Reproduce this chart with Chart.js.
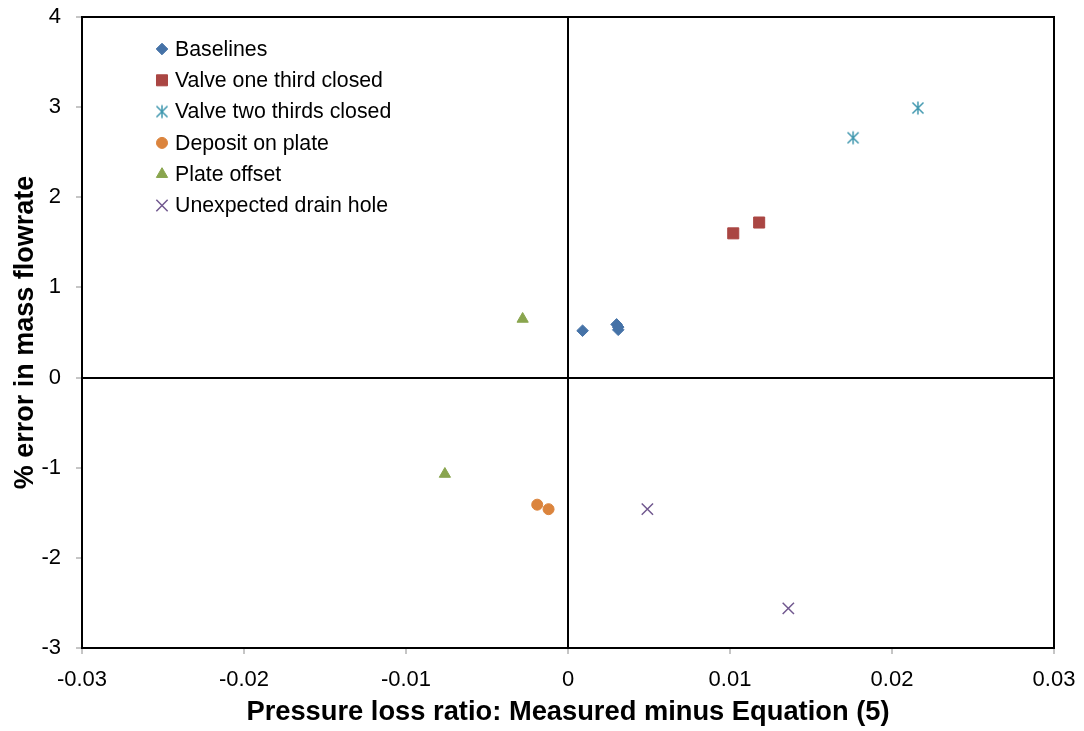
<!DOCTYPE html>
<html>
<head>
<meta charset="utf-8">
<title>Mass flowrate error vs pressure loss ratio</title>
<script src="https://cdn.jsdelivr.net/npm/chart.js@4/dist/chart.umd.min.js"></script>
<style>
  html, body { margin: 0; padding: 0; background: #fff; }
  #wrap { width: 1084px; height: 731px; }
</style>
</head>
<body>
<div id="wrap"><canvas id="chart" width="1084" height="731"></canvas></div>
<script>
// Series names
const seriesLabels = [
  'Baselines',
  'Valve one third closed',
  'Valve two thirds closed',
  'Deposit on plate',
  'Plate offset',
  'Unexpected drain hole'
];

// Pressure loss ratio difference (x) and % error in mass flowrate (y)
const baselinesX = [0.0009, 0.0030, 0.0031, 0.0031];
const baselinesY = [0.52, 0.59, 0.56, 0.53];

const valveThirdX = [0.0102, 0.0118];
const valveThirdY = [1.60, 1.72];

const valveTwoThirdsX = [0.0176, 0.0216];
const valveTwoThirdsY = [2.66, 2.99];

const depositX = [-0.0019, -0.0012];
const depositY = [-1.41, -1.46];

const offsetX = [-0.0028, -0.0076];
const offsetY = [0.65, -1.07];

const drainX = [0.0049, 0.0136];
const drainY = [-1.46, -2.56];

// Axis tick values
const xTicks = [-0.03, -0.02, -0.01, 0, 0.01, 0.02, 0.03];
const yTicks = [-3, -2, -1, 0, 1, 2, 3, 4];

const FONT = '"Liberation Sans", Arial, sans-serif';

// Asterisk marker: an X with a vertical stroke through it
function makeStar(color, size) {
  const c = document.createElement('canvas');
  c.width = size; c.height = size;
  const g = c.getContext('2d');
  const m = size / 2, r = size / 2 - 1.5;
  const d = r * 0.85;
  g.strokeStyle = color;
  g.lineWidth = 1.5;
  g.beginPath();
  g.moveTo(m - d, m - d); g.lineTo(m + d, m + d);
  g.moveTo(m + d, m - d); g.lineTo(m - d, m + d);
  g.moveTo(m, m - r); g.lineTo(m, m + r);
  g.stroke();
  return c;
}

function pts(xs, ys) { return xs.map((x, i) => ({ x: x, y: ys[i] })); }

const colors = ['#4572A7', '#AA4643', '#4198AF', '#DB843D', '#89A54E', '#71588F'];
const starImg = makeStar(colors[2], 16);

const datasets = [
  { label: seriesLabels[0], data: pts(baselinesX, baselinesY), pointStyle: 'rectRot', pointRadius: 5.8, pointBorderWidth: 1 },
  { label: seriesLabels[1], data: pts(valveThirdX, valveThirdY), pointStyle: 'rect', pointRadius: 7.8, pointBorderWidth: 1 },
  { label: seriesLabels[2], data: pts(valveTwoThirdsX, valveTwoThirdsY), pointStyle: starImg, pointRadius: 8, pointBorderWidth: 0 },
  { label: seriesLabels[3], data: pts(depositX, depositY), pointStyle: 'circle', pointRadius: 5.5, pointBorderWidth: 1 },
  { label: seriesLabels[4], data: pts(offsetX, offsetY), pointStyle: 'triangle', pointRadius: 6.5, pointBorderWidth: 1 },
  { label: seriesLabels[5], data: pts(drainX, drainY), pointStyle: 'crossRot', pointRadius: 8, pointBorderWidth: 1.5 }
].map((d, i) => Object.assign(d, {
  backgroundColor: colors[i],
  borderColor: colors[i],
  pointBackgroundColor: colors[i],
  pointBorderColor: colors[i],
  pointHoverRadius: d.pointRadius,
  showLine: false
}));

// Black frame around the plot area
const framePlugin = {
  id: 'frame',
  afterDraw(chart) {
    const a = chart.chartArea, ctx = chart.ctx;
    ctx.save();
    ctx.strokeStyle = '#000';
    ctx.lineWidth = 2;
    ctx.strokeRect(a.left, a.top, a.right - a.left, a.bottom - a.top);
    ctx.restore();
  }
};

// Legend drawn inside the plot area, top-left
const insideLegend = {
  id: 'insideLegend',
  afterDraw(chart) {
    const ctx = chart.ctx;
    const markerX = 162, textX = 175, firstY = 49, step = 31.3;
    ctx.save();
    chart.data.datasets.forEach((ds, i) => {
      const y = firstY + i * step;
      ctx.fillStyle = ds.pointBackgroundColor;
      ctx.strokeStyle = ds.pointBorderColor;
      ctx.lineWidth = ds.pointBorderWidth;
      Chart.helpers.drawPoint(ctx, {
        pointStyle: ds.pointStyle,
        radius: ds.pointRadius,
        rotation: 0,
        borderWidth: ds.pointBorderWidth
      }, markerX, y);
      ctx.fillStyle = '#000';
      ctx.font = '21.3px ' + FONT;
      ctx.textBaseline = 'middle';
      ctx.textAlign = 'left';
      ctx.fillText(ds.label, textX, y + 1);
    });
    ctx.restore();
  }
};

const zeroLine = (c) => (c.tick && c.tick.value === 0) ? '#000' : 'rgba(0,0,0,0)';

new Chart(document.getElementById('chart'), {
  type: 'scatter',
  data: { datasets: datasets },
  options: {
    responsive: false,
    animation: false,
    devicePixelRatio: 1,
    layout: { padding: { top: 17, right: 30, left: 0, bottom: 0 } },
    plugins: {
      legend: { display: false },
      tooltip: { enabled: false }
    },
    scales: {
      x: {
        type: 'linear',
        min: xTicks[0],
        max: xTicks[xTicks.length - 1],
        afterBuildTicks(scale) { scale.ticks = xTicks.map(v => ({ value: v })); },
        afterFit(scale) { scale.height = 83; scale.paddingLeft = 0; scale.paddingRight = 0; },
        border: { display: false },
        grid: { color: zeroLine, lineWidth: 2, tickColor: '#8c8c8c', tickLength: 6, tickWidth: 1 },
        ticks: {
          color: '#000',
          padding: 13,
          font: { family: FONT, size: 22 },
          callback: (v) => String(Math.round(v * 100) / 100)
        },
        title: {
          display: true,
          text: 'Pressure loss ratio: Measured minus Equation (5)',
          color: '#000',
          font: { family: FONT, size: 27.3, weight: 'bold' },
          padding: { top: 0, bottom: 2 }
        }
      },
      y: {
        type: 'linear',
        min: yTicks[0],
        max: yTicks[yTicks.length - 1],
        afterBuildTicks(scale) { scale.ticks = yTicks.map(v => ({ value: v })); },
        afterFit(scale) { scale.width = 82; scale.paddingTop = 0; scale.paddingBottom = 0; },
        border: { display: false },
        grid: { color: zeroLine, lineWidth: 2, tickColor: '#8c8c8c', tickLength: 6, tickWidth: 1 },
        ticks: {
          color: '#000',
          padding: 15,
          font: { family: FONT, size: 22 },
          callback: (v) => String(v)
        },
        title: {
          display: true,
          text: '% error in mass flowrate',
          color: '#000',
          font: { family: FONT, size: 27, weight: 'bold' },
          padding: { top: 9, bottom: 0 }
        }
      }
    }
  },
  plugins: [framePlugin, insideLegend]
});
</script>
</body>
</html>
